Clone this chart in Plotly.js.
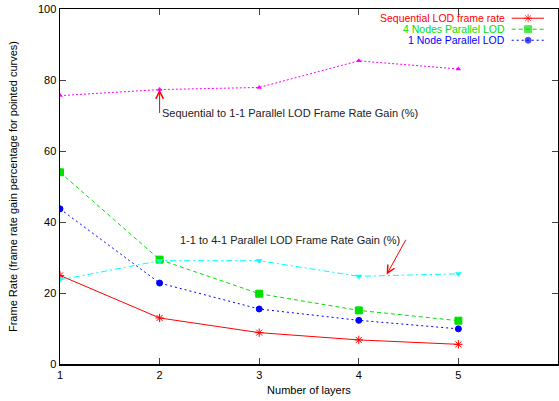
<!DOCTYPE html>
<html><head><meta charset="utf-8">
<script src="https://cdn.plot.ly/plotly-3.0.1.min.js"></script>
<style>html,body{margin:0;padding:0;background:#fff}#c{width:559px;height:401px}</style>
</head><body><div id="c"></div>
<script>
const layers = [1, 2, 3, 4, 5];
const seqRate = [24.95, 12.97, 8.83, 6.78, 5.54];
const nodes4Rate = [54.0, 29.4, 19.8, 15.1, 12.2];
const node1Rate = [43.7, 22.8, 15.5, 12.3, 9.9];
const gain11to41 = [23.7, 29.1, 29.1, 24.7, 25.4];
const gainSeqTo11 = [75.6, 77.3, 77.9, 85.4, 83.1];
const legendNames = ["Sequential LOD frame rate", "4 Nodes Parallel LOD", "1 Node Parallel LOD"];
const xTicks = [1, 2, 3, 4, 5, 6];
const yTicks = [0, 20, 40, 60, 80, 100];

const F = "Liberation Sans, Arial, sans-serif";
const styles = [
  {color: "#ff0000", dash: "solid", symbol: "asterisk-open", size: 7},
  {color: "#00e000", dash: "4px,3px", symbol: "square", size: 7},
  {color: "#0000ff", dash: "2px,3px", symbol: "circle", size: 6}
];
const series = [seqRate, nodes4Rate, node1Rate];

const traces = [];
series.forEach((s, i) => {
  traces.push({x: layers, y: s, type: "scatter", mode: "lines+markers", showlegend: false,
    line: {color: styles[i].color, dash: styles[i].dash, width: 1},
    marker: {symbol: styles[i].symbol, size: styles[i].size, color: styles[i].color, line: {color: styles[i].color, width: 1}}});
});
traces.push({x: layers, y: gain11to41, type: "scatter", mode: "lines+markers", showlegend: false,
  line: {color: "#00ffff", dash: "6px,3px,2px,3px", width: 1},
  marker: {symbol: "triangle-down", size: 6, color: "#00ffff"}});
traces.push({x: layers, y: gainSeqTo11, type: "scatter", mode: "lines+markers", showlegend: false,
  line: {color: "#ff00ff", dash: "2px,2px", width: 1},
  marker: {symbol: "triangle-up", size: 5, color: "#ff00ff"}});

// legend keys (on an overlay paper-like axis)
const keyY = [0.974, 0.943, 0.912];
const annotations = [];
legendNames.forEach((n, i) => {
  traces.push({x: [0.907, 0.940, 0.972], y: [keyY[i], keyY[i], keyY[i]], xaxis: "x2", yaxis: "y2",
    type: "scatter", mode: "lines+markers", showlegend: false, hoverinfo: "skip",
    line: {color: styles[i].color, dash: styles[i].dash, width: 1},
    marker: {symbol: styles[i].symbol, size: [0, styles[i].size, 0], color: styles[i].color, line: {color: styles[i].color, width: 1}}});
  annotations.push({xref: "paper", yref: "paper", x: 0.895, y: keyY[i], xanchor: "right", yanchor: "middle",
    text: n, showarrow: false, borderpad: 0, font: {family: F, size: 10.5, color: styles[i].color}});
});

annotations.push({xref: "x", yref: "y", x: 2, y: 77.3, ax: 2, ay: 70.3, axref: "x", ayref: "y",
  showarrow: true, arrowhead: 5, arrowsize: 1.5, arrowwidth: 1, arrowcolor: "#ff0000", text: ""});
annotations.push({xref: "x", yref: "y", x: 2, y: 70.7, xanchor: "left", yanchor: "middle", showarrow: false,
  text: "Sequential to 1-1 Parallel LOD Frame Rate Gain (%)", font: {family: F, size: 11, color: "#222"}});
annotations.push({xref: "x", yref: "y", x: 4.28, y: 25.2, ax: 4.48, ay: 35.4, axref: "x", ayref: "y",
  showarrow: true, arrowhead: 5, arrowsize: 1.5, arrowwidth: 1, arrowcolor: "#ff0000", text: ""});
annotations.push({xref: "x", yref: "y", x: 3.31, y: 35.0, xanchor: "center", yanchor: "middle", showarrow: false,
  text: "1-1 to 4-1 Parallel LOD Frame Rate Gain (%)", font: {family: F, size: 11, color: "#222"}});

const layout = {
  width: 559, height: 401,
  margin: {l: 60, r: 1, t: 9, b: 37},
  paper_bgcolor: "#fff", plot_bgcolor: "#fff",
  font: {family: F, size: 11, color: "#000"},
  showlegend: false,
  xaxis: {range: [1, 6], tickvals: xTicks, ticktext: xTicks.map(String), ticks: "inside", ticklen: 6,
    showline: true, mirror: "ticks", linecolor: "#000", linewidth: 1.5, showgrid: false, zeroline: false,
    title: {text: "Number of layers", standoff: 6, font: {family: F, size: 11}}},
  yaxis: {range: [0, 100], tickvals: yTicks, ticktext: yTicks.map(String), ticks: "inside", ticklen: 6,
    showline: true, mirror: "ticks", linecolor: "#000", linewidth: 1.5, showgrid: false, zeroline: false,
    title: {text: "Frame Rate (frame rate gain percentage for pointed curves)", standoff: 18, font: {family: F, size: 11}}},
  xaxis2: {range: [0, 1], overlaying: "x", visible: false, fixedrange: true},
  yaxis2: {range: [0, 1], overlaying: "y", visible: false, fixedrange: true},
  annotations: annotations
};
Plotly.newPlot("c", traces, layout, {staticPlot: true, displayModeBar: false});
</script></body></html>
